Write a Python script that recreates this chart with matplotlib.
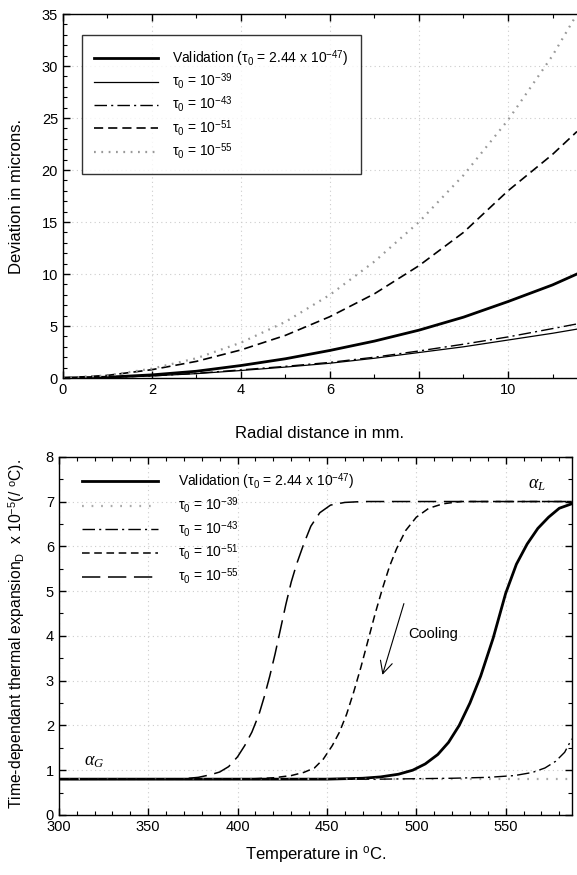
import matplotlib
matplotlib.use("Agg")
import matplotlib.pyplot as plt
from matplotlib.ticker import MultipleLocator

plt.rcParams['font.family'] = ['Liberation Sans', 'DejaVu Sans']
plt.rcParams['mathtext.fontset'] = 'custom'
plt.rcParams['mathtext.rm'] = 'Liberation Sans'
plt.rcParams['mathtext.it'] = 'Liberation Serif:italic'

# ---------------- top panel data ----------------
radial_mm = [0, 1, 2, 3, 4, 5, 6, 7, 8, 9, 10, 11, 11.55]
dev_validation = [0, 0.08, 0.3, 0.65, 1.2, 1.85, 2.65, 3.55, 4.6, 5.85, 7.35, 8.95, 10.0]
dev_tau39 = [0, 0.05, 0.2, 0.42, 0.72, 1.05, 1.42, 1.9, 2.45, 3.0, 3.65, 4.3, 4.7]
dev_tau43 = [0, 0.05, 0.2, 0.45, 0.78, 1.12, 1.5, 2.0, 2.6, 3.25, 3.95, 4.75, 5.2]
dev_tau51 = [0, 0.25, 0.8, 1.6, 2.7, 4.1, 5.9, 8.1, 10.8, 14.0, 18.0, 21.5, 23.7]
dev_tau55 = [0, 0.25, 0.9, 1.9, 3.4, 5.4, 8.0, 11.2, 15.0, 19.5, 24.8, 31.0, 35.0]

# ---------------- bottom panel data ----------------
temp_val = [300, 450, 470, 480, 490, 498, 505, 512, 518, 524, 530, 536, 543, 550, 556, 562, 568, 574, 580, 587]
alpha_val = [0.8, 0.8, 0.82, 0.85, 0.91, 1.0, 1.14, 1.35, 1.62, 2.0, 2.5, 3.1, 3.95, 4.95, 5.6, 6.05, 6.4, 6.65, 6.85, 6.95]

temp_51 = [300, 400, 410, 420, 430, 437, 443, 448, 453, 457, 461, 465, 469, 473, 477, 481, 485, 489, 494, 500, 507, 515, 525, 587]
alpha_51 = [0.8, 0.8, 0.81, 0.83, 0.88, 0.95, 1.05, 1.25, 1.55, 1.85, 2.25, 2.75, 3.3, 3.9, 4.5, 5.05, 5.55, 5.95, 6.35, 6.65, 6.85, 6.95, 7.0, 7.0]

temp_55 = [300, 360, 370, 378, 385, 390, 395, 400, 404, 408, 412, 415, 418, 421, 424, 427, 430, 433, 437, 441, 446, 452, 460, 470, 587]
alpha_55 = [0.8, 0.8, 0.81, 0.84, 0.9, 0.96, 1.08, 1.3, 1.55, 1.85, 2.25, 2.65, 3.1, 3.6, 4.15, 4.7, 5.2, 5.6, 6.05, 6.45, 6.75, 6.92, 6.98, 7.0, 7.0]

temp_43 = [300, 480, 500, 520, 540, 555, 565, 572, 578, 583, 587]
alpha_43 = [0.8, 0.8, 0.81, 0.82, 0.84, 0.88, 0.95, 1.05, 1.2, 1.4, 1.7]

temp_39 = [300, 587]
alpha_39 = [0.8, 0.8]

top_labels = [r'Validation ($\mathregular{\tau_0}$ = 2.44 x 10$^{\mathregular{-47}}$)',
              r'$\mathregular{\tau_0}$ = 10$^{\mathregular{-39}}$',
              r'$\mathregular{\tau_0}$ = 10$^{\mathregular{-43}}$',
              r'$\mathregular{\tau_0}$ = 10$^{\mathregular{-51}}$',
              r'$\mathregular{\tau_0}$ = 10$^{\mathregular{-55}}$']

fig = plt.figure(figsize=(5.77, 8.75), dpi=100)

def style_axes(ax):
    ax.tick_params(which='both', direction='in', top=True, right=True, labelsize=10.5)
    ax.tick_params(which='major', length=5, width=1)
    ax.tick_params(which='minor', length=3, width=0.8)
    ax.grid(True, which='major', linestyle=(0, (1, 3)), color='#cccccc', linewidth=0.8)
    for s in ax.spines.values():
        s.set_linewidth(1.0)

# ---------------- top axes ----------------
ax1 = fig.add_axes([0.109, 0.568, 0.891, 0.416])
ax1.plot(radial_mm, dev_validation, color='black', lw=2.0, label=top_labels[0])
ax1.plot(radial_mm, dev_tau39, color='black', lw=0.9, label=top_labels[1])
ax1.plot(radial_mm, dev_tau43, color='black', lw=1.0, linestyle=(0, (9, 3, 1.5, 3)), label=top_labels[2])
ax1.plot(radial_mm, dev_tau51, color='black', lw=1.2, linestyle=(0, (5.5, 3)), label=top_labels[3])
ax1.plot(radial_mm, dev_tau55, color='#999999', lw=1.6, linestyle=(0, (0.8, 2.5)), label=top_labels[4])
ax1.set_xlim(0, 11.55)
ax1.set_ylim(0, 35)
ax1.xaxis.set_major_locator(MultipleLocator(2))
ax1.xaxis.set_minor_locator(MultipleLocator(1))
ax1.yaxis.set_major_locator(MultipleLocator(5))
ax1.yaxis.set_minor_locator(MultipleLocator(1))
style_axes(ax1)
ax1.spines['right'].set_visible(False)
ax1.tick_params(which='both', right=False)
ax1.set_xlabel('Radial distance in mm.', fontsize=12, labelpad=21)
ax1.set_ylabel('Deviation in microns.', fontsize=12)
ax1.yaxis.set_label_coords(-0.075, 0.5)
leg1 = ax1.legend(loc='upper left', bbox_to_anchor=(0.037, 0.942), borderaxespad=0,
                  fontsize=10, handlelength=4.6, handletextpad=1.0, labelspacing=0.22,
                  fancybox=False, frameon=True, borderpad=0.9)
leg1.get_frame().set_edgecolor('black')
leg1.get_frame().set_linewidth(1.0)

# ---------------- bottom axes ----------------
ax2 = fig.add_axes([0.102, 0.0686, 0.889, 0.4094])
ax2.plot(temp_val, alpha_val, color='black', lw=2.0, label=top_labels[0])
ax2.plot(temp_39, alpha_39, color='#aaaaaa', lw=1.6, linestyle=(0, (0.8, 3.5)), label=top_labels[1])
ax2.plot(temp_43, alpha_43, color='black', lw=1.0, linestyle=(0, (9, 3, 1.5, 3)), label=top_labels[2])
ax2.plot(temp_51, alpha_51, color='black', lw=1.1, linestyle=(0, (5, 3)), label=top_labels[3])
ax2.plot(temp_55, alpha_55, color='black', lw=1.1, linestyle=(0, (12, 5)), label=top_labels[4])
ax2.set_xlim(300, 587)
ax2.set_ylim(0, 8)
ax2.xaxis.set_major_locator(MultipleLocator(50))
ax2.xaxis.set_minor_locator(MultipleLocator(10))
ax2.yaxis.set_major_locator(MultipleLocator(1))
ax2.yaxis.set_minor_locator(MultipleLocator(0.5))
style_axes(ax2)
ax2.set_xlabel(r'Temperature in $\mathregular{^oC}$.', fontsize=12, labelpad=7)
ax2.set_ylabel(r'Time-dependant thermal expansion$_{\mathregular{D}}$  x 10$^{\mathregular{-5}}$(/ $^{\mathregular{o}}$C).', fontsize=11.3)
ax2.yaxis.set_label_coords(-0.062, 0.505)
leg2 = ax2.legend(loc='upper left', bbox_to_anchor=(0.034, 0.975), borderaxespad=0,
                  fontsize=10, handlelength=5.5, handletextpad=1.4, labelspacing=0.25,
                  frameon=False)

ax2.text(320, 1.19, r'$\alpha_G$', fontsize=13, ha='center', va='center')
ax2.text(567.5, 7.37, r'$\alpha_L$', fontsize=13, ha='center', va='center')
ax2.annotate('', xy=(480.6, 3.07), xytext=(493.5, 4.78),
             arrowprops=dict(arrowstyle='->', color='black', lw=0.8, mutation_scale=22))
ax2.text(495.5, 4.04, 'Cooling', fontsize=10.5, ha='left', va='center')

fig.savefig('out.png', dpi=100)
